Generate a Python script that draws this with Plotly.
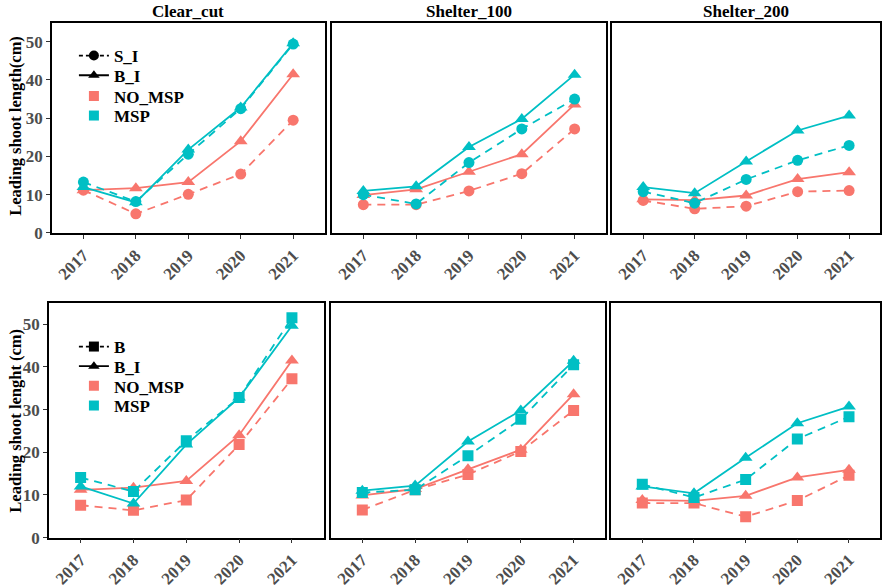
import plotly.graph_objects as go

years = [2017, 2018, 2019, 2020, 2021]
panels = ["Clear_cut", "Shelter_100", "Shelter_200"]

# Top row: S_I (dashed, circles) and B_I (solid, triangles)
si_no_msp = {
    "Clear_cut": [11.2, 5.0, 10.1, 15.4, 29.5],
    "Shelter_100": [7.4, 7.4, 11.0, 15.5, 27.2],
    "Shelter_200": [8.5, 6.3, 7.0, 10.8, 11.1],
}
si_msp = {
    "Clear_cut": [13.3, 8.2, 20.6, 32.5, 49.4],
    "Shelter_100": [10.0, 7.6, 18.4, 27.2, 35.0],
    "Shelter_200": [10.8, 7.8, 14.0, 19.0, 22.9],
}
bi_no_msp = {
    "Clear_cut": [11.2, 11.7, 13.3, 24.0, 41.5],
    "Shelter_100": [9.9, 11.4, 16.0, 20.6, 33.6],
    "Shelter_200": [8.8, 8.6, 9.8, 14.1, 15.9],
}
bi_msp = {
    "Clear_cut": [12.0, 8.0, 21.8, 32.8, 49.6],
    "Shelter_100": [11.0, 12.2, 22.5, 29.8, 41.4],
    "Shelter_200": [12.0, 10.4, 18.7, 26.8, 30.7],
}
# Bottom row: B (dashed, squares)
b_no_msp = {
    "Clear_cut": [7.6, 6.4, 8.8, 21.8, 37.2],
    "Shelter_100": [6.5, 11.2, 14.8, 20.2, 29.8],
    "Shelter_200": [8.1, 8.1, 4.9, 8.7, 14.6],
}
b_msp = {
    "Clear_cut": [14.1, 10.8, 22.7, 32.8, 51.5],
    "Shelter_100": [10.6, 11.2, 19.2, 27.7, 40.5],
    "Shelter_200": [12.5, 9.4, 13.6, 23.1, 28.3],
}

y_title_top = "Leading shoot length(cm)"
y_title_bottom = "Leading shoot lenght (cm)"
y_ticks = [0, 10, 20, 30, 40, 50]
legend_top_names = ["S_I", "B_I", "NO_MSP", "MSP"]
legend_bottom_names = ["B", "B_I", "NO_MSP", "MSP"]

PINK = "#F8766D"
CYAN = "#00BFC4"
FONT = "Liberation Serif"
DASH = "8px,6px"

W, H = 882, 588
# pixel boxes (left, right, top, bottom)
top_boxes = [(52, 325, 23, 237), (332, 607, 23, 237), (613, 881, 23, 237)]
bot_boxes = [(49, 324, 308, 547), (331, 606, 308, 547), (612, 881, 308, 547)]

fig = go.Figure()
layout_axes = {}

def add_axes(idx, box, first_col):
    l, r, t, b = box
    xname = "xaxis" if idx == 1 else f"xaxis{idx}"
    yname = "yaxis" if idx == 1 else f"yaxis{idx}"
    layout_axes[xname] = dict(
        domain=[l / W, r / W], range=[2016.4, 2021.6], tickvals=years,
        ticktext=[str(y) for y in years], tickangle=-45,
        showline=True, mirror=True, linecolor="black", linewidth=1.5,
        ticks="outside", ticklen=4, tickcolor="#333333", showgrid=False, zeroline=False,
        tickfont=dict(family=FONT, size=17, color="#4D4D4D", weight="bold"),
        anchor=f"y{idx}" if idx > 1 else "y",
    )
    layout_axes[yname] = dict(
        domain=[1 - b / H, 1 - t / H], range=[0, 55], tickvals=y_ticks,
        showline=True, mirror=True, linecolor="black", linewidth=1.5,
        ticks="outside" if first_col else "", ticklen=4, tickcolor="#333333",
        showticklabels=first_col, showgrid=False, zeroline=False,
        tickfont=dict(family=FONT, size=17, color="#4D4D4D", weight="bold"),
        anchor=f"x{idx}" if idx > 1 else "x",
    )

def line_trace(idx, y, color, dash, symbol):
    return go.Scatter(
        x=years, y=y, mode="lines+markers",
        line=dict(color=color, width=1.8, dash=dash),
        marker=dict(color=color, size=11 if symbol != "triangle-up" else 12, symbol=symbol),
        xaxis="x" if idx == 1 else f"x{idx}", yaxis="y" if idx == 1 else f"y{idx}",
        showlegend=False, hoverinfo="x+y",
    )

for i, p in enumerate(panels):
    idx = i + 1
    add_axes(idx, top_boxes[i], i == 0)
    fig.add_trace(line_trace(idx, si_no_msp[p], PINK, DASH, "circle"))
    fig.add_trace(line_trace(idx, bi_no_msp[p], PINK, "solid", "triangle-up"))
    fig.add_trace(line_trace(idx, si_msp[p], CYAN, DASH, "circle"))
    fig.add_trace(line_trace(idx, bi_msp[p], CYAN, "solid", "triangle-up"))

for i, p in enumerate(panels):
    idx = i + 4
    add_axes(idx, bot_boxes[i], i == 0)
    fig.add_trace(line_trace(idx, b_no_msp[p], PINK, DASH, "square"))
    fig.add_trace(line_trace(idx, bi_no_msp[p], PINK, "solid", "triangle-up"))
    fig.add_trace(line_trace(idx, b_msp[p], CYAN, DASH, "square"))
    fig.add_trace(line_trace(idx, bi_msp[p], CYAN, "solid", "triangle-up"))

# Legend entries (one legend box per entry so the rows can be spaced like the reference)
legend_specs = [
    # (name, mode, color, dash, symbol, axes)
    (legend_top_names[0], "lines+markers", "black", "4px,3px", "circle", ("x", "y")),
    (legend_top_names[1], "lines+markers", "black", "solid", "triangle-up", ("x", "y")),
    (legend_top_names[2], "markers", PINK, "solid", "square", ("x", "y")),
    (legend_top_names[3], "markers", CYAN, "solid", "square", ("x", "y")),
    (legend_bottom_names[0], "lines+markers", "black", "4px,3px", "square", ("x4", "y4")),
    (legend_bottom_names[1], "lines+markers", "black", "solid", "triangle-up", ("x4", "y4")),
    (legend_bottom_names[2], "markers", PINK, "solid", "square", ("x4", "y4")),
    (legend_bottom_names[3], "markers", CYAN, "solid", "square", ("x4", "y4")),
]
legend_rows_px = [57, 77, 98, 118, 353, 373, 393, 413]

legend_style = dict(
    font=dict(family=FONT, size=17, color="black", weight="bold"),
    bgcolor="rgba(0,0,0,0)", xanchor="left", yanchor="middle",
    itemwidth=30,
)

legend_layout = {}
for k, (name, mode, color, dash, symbol, (xa, ya)) in enumerate(legend_specs):
    lname = "legend" if k == 0 else f"legend{k + 1}"
    fig.add_trace(go.Scatter(
        x=[None], y=[None], mode=mode, name=name, legend=lname,
        line=dict(color=color, width=1.8, dash=dash),
        marker=dict(color=color, size=10, symbol=symbol),
        xaxis=xa, yaxis=ya, showlegend=True,
    ))
    legend_layout[lname] = dict(x=74 / W, y=1 - legend_rows_px[k] / H, **legend_style)

annotations = []
for i, p in enumerate(panels):
    l, r, t, b = top_boxes[i]
    annotations.append(dict(
        text=p, x=(l + r) / 2 / W, y=1 - 12 / H, xref="paper", yref="paper",
        showarrow=False, font=dict(family=FONT, size=17, color="black", weight="bold"),
        xanchor="center", yanchor="middle",
    ))
annotations.append(dict(
    text=y_title_top, x=16 / W, y=1 - 128 / H, xref="paper", yref="paper",
    showarrow=False, textangle=-90, font=dict(family=FONT, size=16.5, color="black", weight="bold"),
    xanchor="center", yanchor="middle",
))
annotations.append(dict(
    text=y_title_bottom, x=16 / W, y=1 - 428 / H, xref="paper", yref="paper",
    showarrow=False, textangle=-90, font=dict(family=FONT, size=16.5, color="black", weight="bold"),
    xanchor="center", yanchor="middle",
))

fig.update_layout(
    width=W, height=H, margin=dict(l=0, r=0, t=0, b=0),
    paper_bgcolor="white", plot_bgcolor="white",
    annotations=annotations,
    **legend_layout,
    **layout_axes,
)

fig.write_html("out.html")
